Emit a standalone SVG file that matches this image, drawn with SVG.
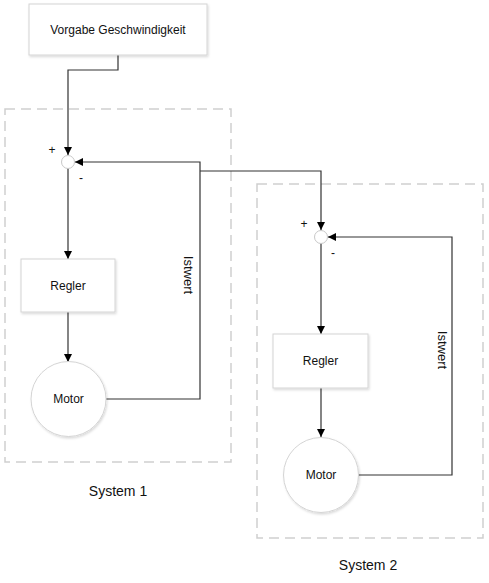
<svg xmlns="http://www.w3.org/2000/svg" width="489" height="583" viewBox="0 0 489 583">
<defs>
<marker id="arr" viewBox="0 0 10 10" refX="10" refY="5" markerWidth="8" markerHeight="8" markerUnits="userSpaceOnUse" orient="auto">
<path d="M0,0 L10,5 L0,10 z" fill="#000"/>
</marker>
<filter id="sh" x="-10%" y="-10%" width="130%" height="130%">
<feDropShadow dx="1" dy="1.5" stdDeviation="1" flood-color="#000" flood-opacity="0.15"/>
</filter>
</defs>
<style>
.box{fill:#fff;stroke:#d4d4d4;stroke-width:1;filter:url(#sh)}
.sum{fill:#fff;stroke:#c8c8c8;stroke-width:1}
.grp{fill:none;stroke:#cfcfcf;stroke-width:1.5;stroke-dasharray:10 6}
.con{fill:none;stroke:#333;stroke-width:1.2}
.arr{marker-end:url(#arr)}
text{font-family:"Liberation Sans",Arial,sans-serif;font-size:12px;fill:#111;text-anchor:middle;dominant-baseline:central}
.lbl{font-size:14px}
.ist{font-size:13px}
</style>
<rect width="489" height="583" fill="#fff"/>
<g id="system1">
<rect class="grp" x="5" y="109" width="226" height="353"/>
<text class="lbl" x="118" y="491">System 1</text>
</g>
<g id="system2">
<rect class="grp" x="257" y="184" width="226" height="354"/>
<text class="lbl" x="368" y="565">System 2</text>
</g>
<g id="connectors">
<path class="con arr" d="M118,55 V70 H68 V155"/>
<path class="con arr" d="M106,399 H200 V162 H75"/>
<path class="con arr" d="M200,171 H321 V230"/>
<path class="con arr" d="M68,168 V259"/>
<path class="con arr" d="M68,312 V362"/>
<path class="con arr" d="M321,243 V334"/>
<path class="con arr" d="M321,388 V437"/>
<path class="con arr" d="M358,475 H452 V237 H328"/>
<text class="ist" x="188" y="275" transform="rotate(90 188 275)">Istwert</text>
<text class="ist" x="442" y="350" transform="rotate(90 442 350)">Istwert</text>
</g>
<g id="vorgabe">
<rect class="box" x="29" y="4" width="178" height="51"/>
<text x="118" y="30">Vorgabe Geschwindigkeit</text>
</g>
<g id="sum1">
<circle class="sum" cx="68" cy="162" r="6.5"/>
<text x="52" y="150">+</text>
<text x="81" y="178">-</text>
</g>
<g id="regler1">
<rect class="box" x="21" y="259" width="94" height="53"/>
<text x="68" y="286">Regler</text>
</g>
<g id="motor1">
<circle class="box" cx="68.5" cy="399" r="37.5"/>
<text x="68.5" y="399">Motor</text>
</g>
<g id="sum2">
<circle class="sum" cx="321" cy="237" r="6.5"/>
<text x="304" y="224">+</text>
<text x="333" y="253">-</text>
</g>
<g id="regler2">
<rect class="box" x="273" y="334" width="95" height="54"/>
<text x="320.5" y="361">Regler</text>
</g>
<g id="motor2">
<circle class="box" cx="321" cy="475" r="37.5"/>
<text x="321" y="475">Motor</text>
</g>
</svg>
